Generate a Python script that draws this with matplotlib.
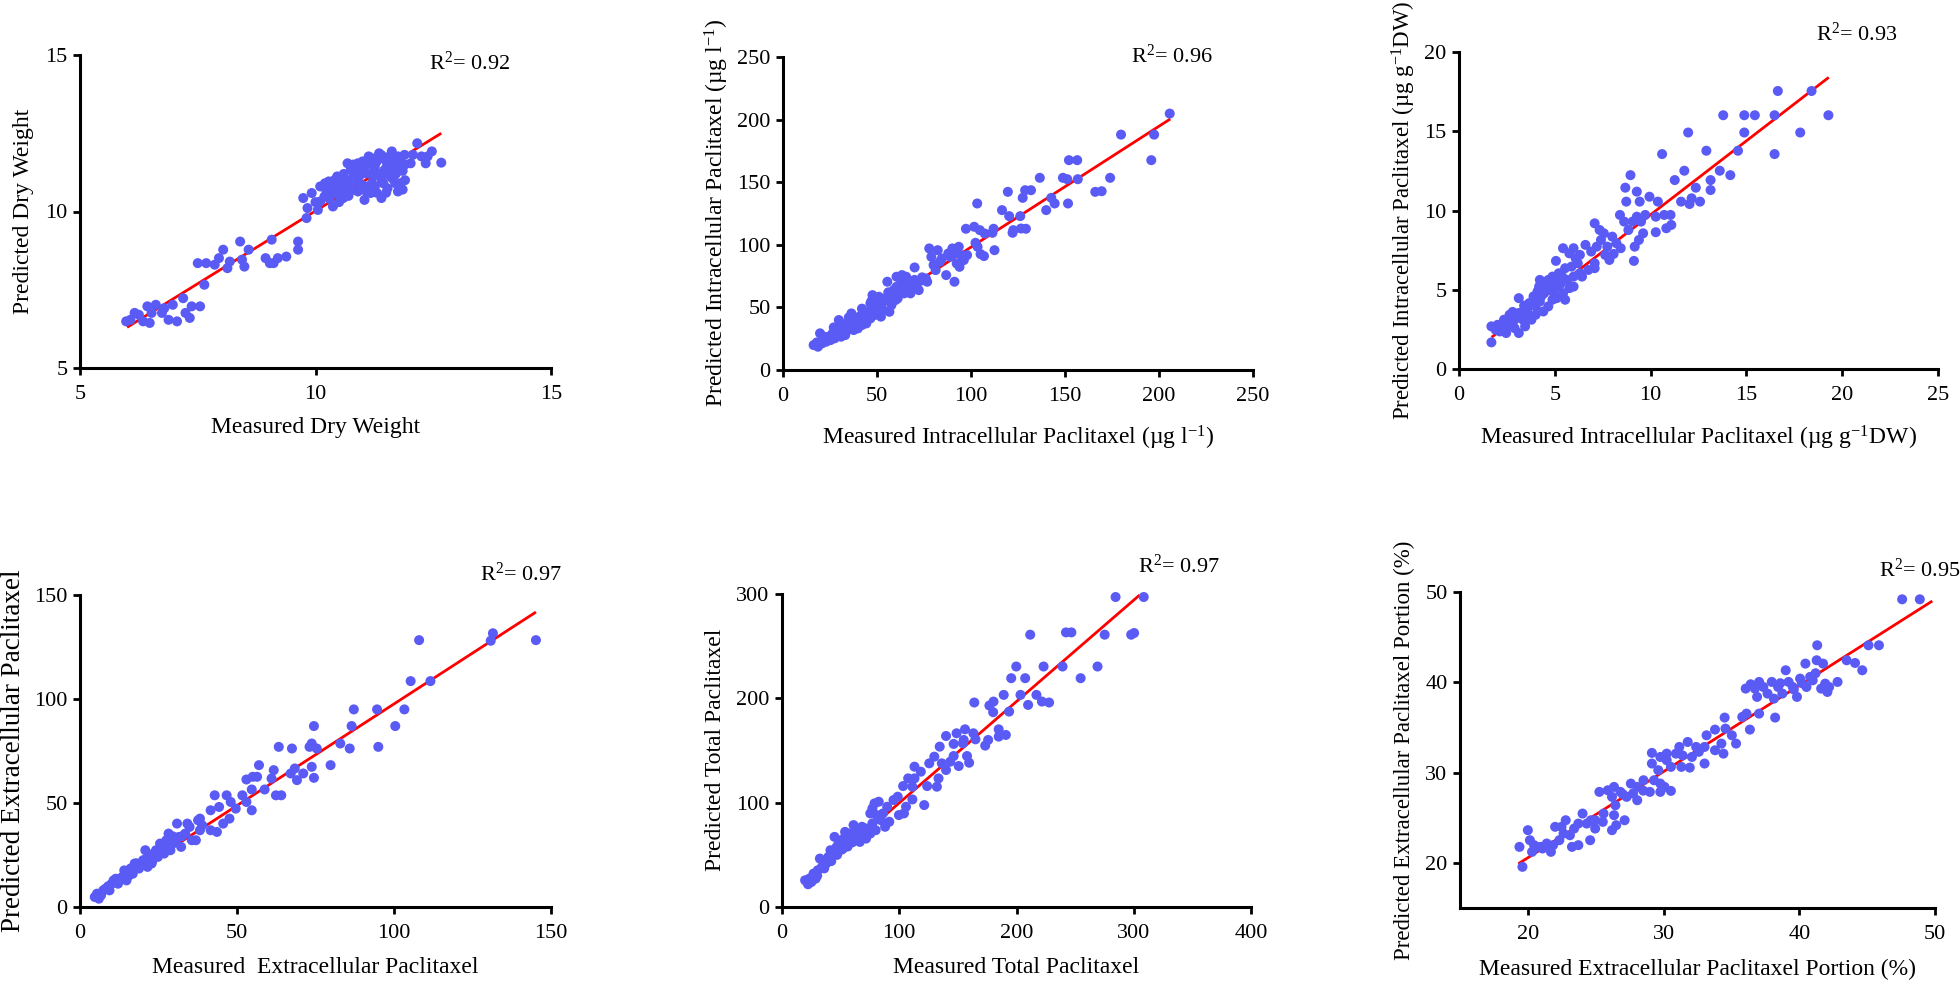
import matplotlib
matplotlib.use("Agg")
import matplotlib.pyplot as plt

W, H = 1960, 983

# ---------------- data (measured, predicted) ----------------
dry_weight_points = [
    (5.98, 6.49), (6.16, 6.76), (6.34, 6.49), (6.43, 6.97), (6.48, 6.44), (6.61, 7.02), (6.74, 6.76),
    (6.88, 6.54), (6.97, 7.02), (7.06, 6.49), (7.19, 7.23), (7.24, 6.76), (7.37, 6.97), (7.33, 6.60),
    (7.55, 6.97), (6.07, 6.54), (6.25, 6.70), (6.52, 6.76), (6.79, 6.91),
    (7.64, 7.66), (7.50, 8.35), (7.68, 8.35), (7.86, 8.30), (7.95, 8.51), (8.04, 8.78), (8.13, 8.19),
    (8.18, 8.40), (8.40, 9.04), (8.44, 8.46), (8.58, 8.78), (8.49, 8.24), (8.94, 8.51), (9.07, 9.10),
    (9.11, 8.35), (9.20, 8.51), (9.38, 8.56), (9.63, 9.04), (9.63, 8.78), (9.03, 8.35),
    (9.74, 10.43), (9.83, 10.11), (9.81, 9.79), (9.92, 10.59), (10.05, 10.05), (10.10, 10.80), (10.19, 10.48),
    (10.28, 10.96), (10.37, 10.16), (10.41, 10.80), (10.46, 11.12), (10.55, 10.59), (10.59, 10.43),
    (10.64, 11.01), (10.68, 11.54), (10.77, 10.80), (10.81, 11.22), (10.90, 11.54), (10.99, 10.85),
    (11.04, 10.37), (11.08, 11.22), (11.13, 11.76), (11.17, 10.59), (11.22, 11.12), (11.26, 11.44),
    (11.35, 11.86), (11.40, 10.43), (11.44, 10.90), (11.48, 11.65), (11.53, 11.22), (11.62, 11.92),
    (11.66, 11.01), (11.71, 11.54), (11.75, 10.64), (11.80, 10.90), (11.89, 11.81), (12.02, 11.54),
    (12.16, 12.18), (12.25, 11.76), (12.34, 11.54), (12.47, 11.92), (12.67, 11.56), (12.07, 11.81),
    (12.38, 11.76), (11.57, 11.76), (11.26, 10.80), (10.72, 10.64), (10.90, 10.64), (10.23, 10.69),
    (10.10, 10.32), (10.46, 10.59), (11.08, 10.64), (11.35, 11.17), (11.71, 11.22), (11.53, 10.74),
    (10.95, 11.17), (11.75, 11.76),
    (10.30, 10.70), (10.50, 10.90), (10.70, 11.00), (10.90, 11.30), (11.10, 11.50), (11.30, 11.60),
    (11.50, 11.40), (11.70, 11.20), (11.85, 11.30), (10.60, 10.80), (10.80, 10.70), (11.00, 11.40),
    (11.20, 10.90), (11.40, 11.00), (11.60, 11.10), (11.80, 11.50), (10.40, 10.60), (10.75, 11.35),
    (11.15, 11.60), (11.45, 11.30),
    (10.00, 10.30), (10.20, 10.90), (10.40, 11.00), (10.60, 11.20), (10.80, 11.50), (11.00, 11.60),
    (11.20, 11.70), (11.40, 11.80), (11.60, 11.60), (11.80, 11.70), (11.90, 11.50), (11.90, 11.00),
    (11.85, 10.70), (11.70, 10.90), (11.50, 10.60), (11.30, 10.60), (11.10, 10.80), (10.90, 11.00),
    (10.70, 10.50), (10.50, 10.30), (10.30, 10.40), (11.65, 11.40), (11.25, 11.30),
]

intra_conc_points = [
    (205.7, 204.8), (197.4, 188.0), (179.8, 188.0), (195.9, 167.6), (152.1, 167.6), (156.5, 167.6),
    (136.6, 153.5), (148.9, 153.5), (151.2, 152.4), (156.8, 152.4), (174.0, 153.5), (166.1, 142.3),
    (169.5, 142.8), (119.6, 142.3), (128.8, 143.6), (131.9, 143.6), (127.5, 137.5), (142.7, 137.5),
    (144.5, 133.0), (140.0, 127.7), (151.6, 133.0), (103.3, 133.0), (116.5, 127.7), (120.3, 122.9),
    (126.2, 122.9), (122.5, 111.7), (126.6, 113.0), (129.2, 112.8), (122.1, 109.6), (112.0, 112.8),
    (111.4, 109.6), (97.3, 112.8), (101.7, 114.4), (104.7, 111.7), (107.3, 109.0), (102.4, 101.6),
    (103.5, 98.4), (106.9, 91.0), (112.5, 95.7), (105.1, 92.6), (91.2, 70.5), (86.8, 75.8), (70.0, 81.9),
    (77.8, 97.1), (82.3, 95.7), (84.5, 89.1), (89.0, 90.4), (91.2, 93.1), (93.5, 98.4), (94.6, 91.8),
    (96.2, 87.8), (80.1, 83.8), (83.4, 86.4), (87.9, 93.1), (90.1, 97.1), (92.4, 85.1), (97.9, 91.8),
    (78.9, 90.4), (93.9, 82.4), (81.2, 79.8),
    (55.5, 70.5), (60.4, 74.5), (63.3, 75.8), (66.6, 71.8), (68.9, 66.5), (71.1, 69.1), (73.3, 71.3),
    (76.0, 73.1), (65.5, 63.8), (58.8, 63.8), (62.2, 67.0), (56.6, 59.8), (59.9, 55.9), (64.4, 61.2),
    (56.6, 46.5), (53.2, 54.5), (51.0, 58.5), (47.6, 59.8), (46.5, 53.2), (49.9, 50.5), (45.4, 46.5),
    (48.7, 43.9), (44.3, 42.6), (40.9, 41.2), (42.0, 35.9), (39.8, 33.2), (36.4, 45.2), (35.3, 39.9),
    (33.1, 35.9), (30.9, 31.9), (33.1, 27.9), (29.7, 39.9), (28.6, 31.9), (26.4, 29.3), (24.2, 26.6),
    (23.0, 22.6), (19.7, 29.3), (20.8, 21.3), (18.6, 18.6), (16.3, 19.9), (25.3, 23.9), (27.5, 25.3),
    (37.6, 31.9), (39.8, 39.9), (44.3, 37.2), (46.5, 41.2), (53.2, 47.9), (52.1, 42.6), (57.7, 51.9),
    (61.0, 57.2), (67.8, 61.2), (72.2, 63.8), (76.7, 70.5), (39.8, 35.9), (34.2, 31.9), (36.4, 35.9),
    (30.9, 26.6), (21.9, 26.6), (46.5, 47.9), (43.2, 45.2), (55.5, 55.9), (51.0, 50.5), (60.4, 66.5),
    (65.5, 74.5), (18.0, 22.0), (22.0, 24.0), (26.0, 27.0), (29.0, 30.0), (32.0, 33.0), (35.0, 36.0),
    (38.0, 38.0), (41.0, 43.0), (44.0, 45.0), (48.0, 49.0), (50.0, 53.0), (54.0, 57.0), (58.0, 60.0),
    (62.0, 64.0), (66.0, 68.0), (70.0, 72.0), (74.0, 74.0), (27.0, 34.0), (31.0, 37.0), (35.0, 42.0),
    (42.0, 49.0), (47.0, 55.0), (56.0, 62.0), (63.0, 70.0),
]

intra_dw_points = [
    (19.28, 16.01), (18.40, 17.54), (16.64, 17.54), (16.47, 16.01), (16.47, 13.56), (17.81, 14.92),
    (15.44, 16.01), (14.89, 16.01), (14.89, 14.92), (13.79, 16.01), (11.96, 14.92), (14.56, 13.77),
    (12.91, 13.77), (10.60, 13.56), (13.61, 12.51), (14.16, 12.23), (11.76, 12.51), (11.26, 11.92),
    (12.36, 11.44), (13.13, 11.92), (13.13, 11.29), (11.59, 10.56), (12.03, 10.41), (12.58, 10.56),
    (12.14, 10.77), (8.95, 12.23), (8.68, 11.44), (9.28, 11.19), (8.73, 10.56), (9.43, 10.56),
    (9.94, 10.87), (10.38, 10.56), (10.27, 9.61), (11.04, 9.72), (10.71, 9.72), (10.27, 8.63),
    (10.82, 8.88), (11.08, 9.09), (8.40, 9.72), (9.06, 9.30), (9.72, 9.72), (9.50, 9.30), (9.61, 8.56),
    (9.17, 7.72), (9.39, 8.14), (9.13, 6.82), (8.84, 8.77), (8.62, 9.30), (9.28, 9.61),
    (7.08, 9.19), (7.34, 8.77), (7.41, 8.14), (7.56, 8.56), (7.74, 7.72), (8.00, 8.35), (8.22, 7.93),
    (8.07, 7.26), (7.85, 6.88), (8.44, 7.62), (7.19, 7.72), (6.90, 7.41), (7.08, 6.36), (7.63, 7.20),
    (6.60, 7.83), (6.31, 7.20),
    (5.06, 6.82), (5.43, 7.62), (5.76, 7.30), (5.98, 7.62), (6.09, 6.99), (6.20, 6.67), (5.87, 6.46),
    (5.54, 6.36), (5.21, 6.04), (4.88, 5.83), (5.32, 5.41), (5.65, 5.62), (5.98, 5.83), (6.31, 6.04),
    (5.76, 5.10), (5.43, 4.78), (5.54, 4.37), (5.10, 4.47), (4.77, 4.99), (4.55, 5.41), (4.22, 5.62),
    (4.18, 5.20), (4.44, 4.78), (4.22, 4.26), (4.00, 3.95), (4.40, 3.63), (3.89, 4.58), (3.67, 4.16),
    (3.56, 3.63), (3.34, 3.11), (3.12, 4.47), (3.12, 3.53), (2.79, 3.21), (2.90, 2.58), (2.68, 2.90),
    (2.46, 2.58), (2.35, 3.11), (2.13, 2.37), (2.02, 2.79), (1.69, 2.69), (1.69, 1.68), (1.91, 2.48),
    (2.46, 2.27), (3.12, 2.27), (3.45, 2.69), (3.78, 3.11), (4.00, 3.42), (4.66, 3.95), (4.88, 4.37),
    (5.21, 5.20), (4.99, 4.68), (4.66, 5.62), (5.10, 5.30), (5.98, 5.20), (6.42, 5.83), (6.75, 6.25),
    (7.08, 6.67), (3.67, 3.32), (2.90, 3.11), (2.64, 3.42), (2.2, 2.6), (2.6, 2.8), (3.0, 3.3),
    (3.3, 3.6), (3.6, 3.9), (3.9, 4.3), (4.3, 4.6), (4.6, 5.0), (5.0, 5.5), (5.4, 5.8), (3.4, 4.0),
    (2.8, 3.6), (4.1, 4.9),
]

extra_conc_points = [
    (145.2, 128.3), (130.8, 128.0), (131.5, 131.6), (108.0, 128.3), (105.3, 108.6), (111.6, 108.6),
    (94.6, 95.0), (103.3, 95.0), (87.2, 95.0), (86.5, 87.0), (100.4, 87.0), (74.5, 87.0), (95.0, 77.0),
    (85.9, 76.2), (82.9, 78.6), (79.8, 68.2), (73.8, 78.6), (75.4, 76.2), (73.1, 77.0), (67.5, 76.2),
    (63.3, 77.0), (68.4, 66.6), (69.1, 61.0), (71.1, 64.2), (73.8, 67.4), (74.5, 62.1), (67.1, 64.2),
    (61.7, 65.8), (61.0, 61.8), (57.0, 68.2), (56.4, 62.6), (53.0, 61.3), (55.0, 62.6), (58.8, 56.5),
    (54.7, 56.5), (51.7, 53.7), (62.4, 53.7), (64.1, 53.7), (54.7, 46.5), (53.0, 50.5), (49.6, 47.3),
    (48.0, 50.5), (46.7, 53.7), (42.9, 53.7), (44.3, 48.1), (41.6, 46.5), (38.2, 42.5), (47.6, 42.5),
    (45.6, 40.1), (43.6, 36.1), (41.6, 36.9), (38.9, 39.3),
    (4.7, 4.8), (5.4, 6.4), (6.7, 5.6), (8.1, 8.8), (9.4, 8.0), (10.1, 11.2), (10.7, 12.8),
    (12.1, 11.2), (13.4, 14.4), (14.1, 17.6), (14.8, 12.8), (16.1, 18.5), (16.8, 16.0), (17.4, 20.9),
    (18.8, 18.5), (20.1, 22.5), (20.8, 27.3), (21.5, 19.3), (22.1, 24.1), (22.8, 20.9), (24.2, 27.3),
    (24.8, 24.1), (25.5, 30.5), (26.8, 25.7), (27.5, 32.1), (28.8, 27.3), (29.5, 30.5), (30.9, 40.1),
    (31.5, 33.7), (32.2, 28.9), (33.5, 35.3), (34.9, 38.5), (35.6, 32.1), (36.9, 32.1), (37.6, 41.7),
    (34.2, 40.1), (38.2, 36.9), (28.2, 35.3), (26.2, 28.9), (23.5, 25.7), (19.5, 20.9), (14.8, 16.0),
    (11.4, 13.6), (7.4, 8.0), (6.0, 4.0), (9.0, 10.0), (12.0, 13.0), (15.5, 15.0), (18.0, 21.0),
    (21.0, 23.0), (23.0, 22.0), (25.0, 27.0), (27.0, 29.0), (30.0, 31.0), (32.5, 34.0), (29.5, 34.0),
]

total_points = [
    (308.5, 297.1), (284.5, 297.1), (297.8, 261.0), (300.3, 262.6), (275.2, 261.0), (242.2, 263.2),
    (246.8, 263.2), (211.7, 261.0), (269.1, 230.5), (239.3, 230.5), (223.1, 230.5), (199.8, 230.5),
    (254.7, 219.3), (195.5, 219.3), (207.4, 219.3), (217.0, 203.3), (203.4, 203.3), (189.1, 203.3),
    (221.7, 196.9), (227.8, 196.0), (209.9, 193.7), (180.4, 196.9), (176.9, 193.1), (180.1, 186.7),
    (193.7, 187.3), (164.0, 196.0), (184.8, 170.3), (190.9, 164.9), (184.8, 163.3), (175.8, 160.1),
    (173.3, 154.7), (156.1, 170.3), (163.2, 166.5), (165.0, 160.7), (148.9, 166.5), (139.9, 163.9),
    (146.4, 156.3), (155.0, 160.1), (154.3, 156.9), (134.5, 153.7), (157.8, 144.7), (159.6, 138.3),
    (150.7, 135.1), (146.4, 144.7), (129.9, 144.1), (125.6, 137.7), (136.3, 137.7), (143.5, 139.3),
    (139.9, 131.3), (133.5, 123.3), (132.1, 115.3), (123.8, 115.9), (113.0, 123.3), (113.0, 134.5),
    (107.6, 123.3), (121.3, 97.7), (118.4, 129.7), (111.2, 115.3), (103.3, 115.9), (111.2, 103.1),
    (104.0, 89.7), (99.7, 88.1), (105.8, 96.1), (98.7, 105.7), (95.1, 102.5), (89.7, 96.1),
    (82.5, 100.9), (78.9, 99.3), (75.3, 89.7), (77.1, 94.5), (86.1, 89.7), (91.5, 81.7), (87.9, 76.9),
    (79.9, 73.6), (75.3, 70.4), (71.7, 65.6), (68.2, 76.9), (64.6, 72.0), (61.0, 78.5), (57.4, 70.4),
    (53.8, 72.0), (50.2, 64.0), (46.6, 57.6), (44.8, 67.2), (52.0, 56.0), (55.6, 60.8), (59.2, 65.6),
    (66.4, 62.4), (43.0, 51.2), (39.5, 48.0), (37.7, 41.6), (32.3, 46.4), (34.1, 38.4), (30.5, 35.2),
    (26.9, 32.0), (28.7, 27.2), (23.3, 27.2), (19.7, 25.6), (22.2, 21.8), (25.1, 24.0), (35.9, 43.2),
    (41.3, 54.4), (48.4, 60.8), (53.8, 67.2), (61.0, 68.8), (71.7, 75.2), (77.1, 80.1), (80.7, 88.1),
    (84.3, 83.3), (30.0, 30.0), (36.0, 37.0), (42.0, 44.0), (47.0, 50.0), (51.0, 55.0), (56.0, 58.0),
    (60.0, 62.0), (65.0, 67.0), (70.0, 70.0),
]

portion_points = [
    (47.58, 49.19), (48.88, 49.19), (45.10, 44.10), (45.87, 44.10), (41.32, 44.10), (43.49, 42.44),
    (44.11, 42.14), (44.64, 41.33), (42.20, 39.48), (42.82, 40.04), (41.75, 42.07), (41.28, 42.44),
    (40.45, 42.07), (39.00, 41.33), (41.91, 39.85), (42.07, 38.93), (41.61, 39.30), (40.99, 40.22),
    (40.53, 39.48), (40.06, 40.41), (39.83, 38.38), (39.52, 39.48), (39.21, 40.04), (38.75, 38.75),
    (38.44, 39.48), (37.97, 40.04), (37.66, 38.75), (37.35, 39.48), (37.04, 40.04), (36.73, 39.30),
    (36.42, 39.78), (36.05, 39.30), (36.89, 38.38), (38.13, 38.19), (38.22, 36.09), (37.04, 36.53),
    (36.11, 36.53), (35.80, 36.16), (36.36, 34.76), (34.50, 36.09), (33.79, 34.76), (34.56, 34.87),
    (35.03, 34.13), (35.34, 33.21), (34.26, 33.21), (34.41, 32.10), (33.79, 32.47), (33.17, 34.13),
    (33.02, 32.84), (33.02, 31.00), (32.40, 32.84), (31.78, 33.39), (32.09, 31.73), (31.16, 32.84),
    (30.91, 32.10), (31.31, 30.63), (31.93, 30.55), (30.54, 30.63), (30.23, 31.37), (29.76, 31.73),
    (30.23, 32.10), (29.14, 32.18), (29.14, 31.00), (29.61, 30.26), (29.30, 29.15), (29.76, 28.78),
    (28.99, 27.86), (28.52, 29.15), (29.76, 27.86), (30.54, 27.97), (30.07, 28.41), (28.06, 28.41),
    (27.59, 28.78), (27.75, 27.68), (28.06, 26.94), (27.28, 27.31), (26.82, 27.86), (26.35, 28.41),
    (25.89, 28.04), (25.27, 27.86), (26.20, 27.31), (26.45, 26.38), (25.58, 25.46), (26.35, 25.28),
    (27.13, 24.72), (26.20, 23.62), (26.51, 24.17), (25.52, 24.54), (24.96, 23.80), (24.65, 24.72),
    (24.03, 25.46), (24.34, 24.35), (24.59, 22.51), (23.72, 24.35), (23.41, 23.80), (23.72, 21.96),
    (23.25, 21.77), (22.79, 24.72), (22.48, 23.99), (22.01, 23.99), (22.63, 23.25), (22.32, 22.51),
    (21.86, 21.96), (21.39, 22.14), (21.08, 21.59), (20.62, 21.77), (20.31, 21.22), (20.15, 22.51),
    (20.00, 23.62), (19.38, 21.77), (19.60, 19.56), (21.70, 21.22), (20.93, 21.77), (20.46, 21.96),
    (23.10, 23.06), (24.96, 24.72), (40.2, 39.9), (40.8, 40.6), (41.2, 41.0), (39.6, 39.2),
    (38.6, 39.9), (32.6, 32.3), (31.4, 31.9), (28.5, 28.0), (27.0, 27.6),
]

# regression lines: (x_start, x_end), (y_start, y_end)
fit_dry_weight = ([6.0, 12.67], [6.3, 12.5])
fit_intra_conc = ([17.0, 206.0], [18.0, 200.5])
fit_intra_dw = ([1.7, 19.3], [2.0, 18.4])
fit_extra_conc = ([4.5, 145.2], [4.3, 141.8])
fit_total = ([20.0, 305.0], [22.0, 299.0])
fit_portion = ([19.3, 49.8], [19.9, 49.0])

r2_values = ["0.92", "0.96", "0.93", "0.97", "0.97", "0.95"]

x_labels = [
    "Measured Dry Weight",
    "Measured Intracellular Paclitaxel (\u00b5g l$^{-1}$)",
    "Measured Intracellular Paclitaxel (\u00b5g g$^{-1}$DW)",
    "Measured  Extracellular Paclitaxel",
    "Measured Total Paclitaxel",
    "Measured Extracellular Paclitaxel Portion (%)",
]
y_labels = [
    "Predicted Dry Weight",
    "Predicted Intracellular Paclitaxel (\u00b5g l$^{-1}$)",
    "Predicted Intracellular Paclitaxel (\u00b5g g$^{-1}$DW)",
    "Predicted Extracellular Paclitaxel",
    "Predicted Total Paclitaxel",
    "Predicted Extracellular Paclitaxel Portion (%)",
]

x_ticks = [[5, 10, 15], [0, 50, 100, 150, 200, 250], [0, 5, 10, 15, 20, 25],
           [0, 50, 100, 150], [0, 100, 200, 300, 400], [20, 30, 40, 50]]
y_ticks = [[5, 10, 15], [0, 50, 100, 150, 200, 250], [0, 5, 10, 15, 20],
           [0, 50, 100, 150], [0, 100, 200, 300], [20, 30, 40, 50]]
x_lims = [(5, 15), (0, 250), (0, 25), (0, 150), (0, 400), (15, 50)]
y_lims = [(5, 15), (0, 250), (0, 20), (0, 150), (0, 300), (15, 50)]

# ---------------- styling / layout ----------------
plt.rcParams["font.family"] = ["Liberation Serif", "DejaVu Serif"]
plt.rcParams["mathtext.fontset"] = "custom"
plt.rcParams["mathtext.rm"] = "Liberation Serif"
plt.rcParams["mathtext.it"] = "Liberation Serif:italic"
plt.rcParams["mathtext.bf"] = "Liberation Serif:bold"

DOT = "#5a5af5"
LINE = "#ff0000"

# axes rectangles in pixels: left, top, right, bottom
rects = [(80, 55, 551, 368), (783, 57, 1253, 370), (1459, 52, 1938, 369),
         (80, 595, 551, 907), (782, 594, 1251, 907), (1460, 592, 1935, 908)]
ylabel_pos = [(24, 211), (717, 213), (1404, 210), (14, 751), (715, 750), (1404, 750)]
ylabel_size = [17, 17, 16.5, 19.5, 17, 16.5]
xlabel_base = [433, 444, 444, 973, 973, 975]
r2_pos = [(429, 70), (1131, 63), (1816, 41), (480, 581), (1138, 573), (1879, 577)]

fig = plt.figure(figsize=(W / 100, H / 100), dpi=100)
fig.patch.set_facecolor("white")

panels = [
    (dry_weight_points, fit_dry_weight),
    (intra_conc_points, fit_intra_conc),
    (intra_dw_points, fit_intra_dw),
    (extra_conc_points, fit_extra_conc),
    (total_points, fit_total),
    (portion_points, fit_portion),
]

for i, (pts, fit) in enumerate(panels):
    l, t, r, b = rects[i]
    ax = fig.add_axes([l / W, 1 - b / H, (r - l) / W, (b - t) / H])
    xs = [p[0] for p in pts]
    ys = [p[1] for p in pts]
    ax.plot(fit[0], fit[1], color=LINE, lw=2.0, zorder=2, solid_capstyle="butt")
    ax.scatter(xs, ys, s=52, color=DOT, edgecolors="none", zorder=3, clip_on=False)
    ax.set_xlim(*x_lims[i])
    ax.set_ylim(*y_lims[i])
    ax.set_xticks(x_ticks[i])
    ax.set_yticks(y_ticks[i])
    for s in ("top", "right"):
        ax.spines[s].set_visible(False)
    for s in ("left", "bottom"):
        ax.spines[s].set_linewidth(2.2)
    ax.tick_params(axis="both", direction="out", length=5, width=2.0, labelsize=16)
    ax.tick_params(axis="x", pad=7)
    ax.tick_params(axis="y", pad=4)
    ax.set_facecolor("none")

    cx = (l + r) / 2
    fig.text(cx / W, 1 - xlabel_base[i] / H, x_labels[i], ha="center", va="baseline",
             fontsize=17)
    yx, yy = ylabel_pos[i]
    fig.text(yx / W, 1 - yy / H, y_labels[i], ha="center", va="center", rotation=90,
             fontsize=ylabel_size[i])
    rx, ry = r2_pos[i]
    fig.text(rx / W, 1 - ry / H, "R$^{2}$= " + r2_values[i], ha="left", va="baseline",
             fontsize=16)

fig.savefig("out.png", dpi=100, facecolor="white")
